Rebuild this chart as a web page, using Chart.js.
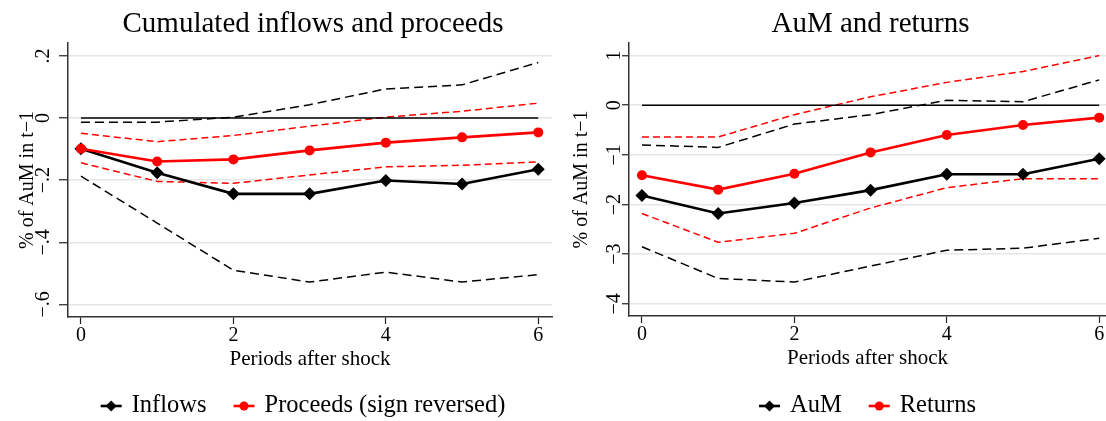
<!DOCTYPE html>
<html>
<head>
<meta charset="utf-8">
<script src="https://cdn.jsdelivr.net/npm/chart.js@4.4.0/dist/chart.umd.min.js"></script>
<style>
  html, body { margin: 0; padding: 0; background: #fff; }
  #wrap { position: relative; width: 1106px; height: 421px; }
  canvas { position: absolute; top: 0; }
</style>
</head>
<body>
<div id="wrap">
  <canvas id="flows" width="553" height="421" style="left:0"></canvas>
  <canvas id="aum" width="553" height="421" style="left:553px"></canvas>
</div>
<script>
const periods = [0, 1, 2, 3, 4, 5, 6];
const xTicks = [0, 2, 4, 6];

// left panel: cumulated flows, point estimates and confidence bands
const inflows    = [-0.099, -0.176, -0.244, -0.244, -0.201, -0.212, -0.165];
const inflowsHi  = [-0.013, -0.013, 0.003, 0.043, 0.094, 0.107, 0.179];
const inflowsLo  = [-0.187, -0.338, -0.490, -0.528, -0.496, -0.528, -0.504];
const proceeds   = [-0.099, -0.140, -0.133, -0.104, -0.079, -0.062, -0.046];
const proceedsHi = [-0.049, -0.076, -0.056, -0.026, 0.003, 0.022, 0.048];
const proceedsLo = [-0.144, -0.204, -0.210, -0.183, -0.157, -0.152, -0.141];
const flowTicks  = [0.2, 0, -0.2, -0.4, -0.6];
const flowLabels = ['.2', '0', '\u2212.2', '\u2212.4', '\u2212.6'];

// right panel: AuM and returns
const aum        = [-1.82, -2.18, -1.97, -1.71, -1.39, -1.39, -1.08];
const aumHi      = [-0.80, -0.85, -0.38, -0.19, 0.10, 0.07, 0.51];
const aumLo      = [-2.85, -3.49, -3.56, -3.24, -2.92, -2.88, -2.68];
const returns    = [-1.41, -1.70, -1.38, -0.95, -0.60, -0.40, -0.25];
const returnsHi  = [-0.64, -0.64, -0.19, 0.17, 0.46, 0.68, 1.00];
const returnsLo  = [-2.18, -2.76, -2.58, -2.07, -1.66, -1.48, -1.48];
const aumTicks   = [1, 0, -1, -2, -3, -4];
const aumLabels  = ['1', '0', '\u22121', '\u22122', '\u22123', '\u22124'];

const zeros = periods.map(() => 0);
const SERIF = '"Liberation Serif", "Times New Roman", serif';
const RED = '#ff0000';

function pts(values) {
  return periods.map((p, i) => ({ x: p, y: values[i] }));
}

function mainLine(label, values, color, style, radius) {
  return {
    label: label, data: pts(values),
    borderColor: color, backgroundColor: color, borderWidth: 2.6,
    pointStyle: style, pointRadius: radius, pointBorderWidth: 0,
    pointBackgroundColor: color
  };
}

function band(values, color, dash) {
  return {
    data: pts(values), borderColor: color, borderWidth: 1.5,
    borderDash: dash, pointRadius: 0
  };
}

// title, rotated y tick labels and the line+marker legend
const decor = {
  id: 'decor',
  afterDraw(chart, args, o) {
    const ctx = chart.ctx, area = chart.chartArea, ys = chart.scales.y;
    const mid = (area.left + area.right) / 2;
    ctx.save();
    ctx.fillStyle = '#000';

    ctx.font = '29px ' + SERIF;
    ctx.textAlign = 'center';
    ctx.textBaseline = 'alphabetic';
    ctx.fillText(o.title, mid + 3, 32);

    ctx.font = '20px ' + SERIF;
    o.yTicks.forEach((v, i) => {
      ctx.save();
      ctx.translate(o.yLabelX, ys.getPixelForValue(v));
      ctx.rotate(-Math.PI / 2);
      ctx.fillText(o.yLabels[i], 0, 0);
      ctx.restore();
    });

    ctx.font = '24.5px ' + SERIF;
    ctx.textAlign = 'left';
    ctx.textBaseline = 'middle';
    const sym = 21, gap = 10, between = 27, ly = 406;
    const widths = o.legend.map(it => ctx.measureText(it.label).width);
    let total = between * (o.legend.length - 1);
    widths.forEach(w => { total += sym + gap + w; });
    let sx = mid + o.legendShift - total / 2;
    o.legend.forEach((it, i) => {
      ctx.strokeStyle = it.color;
      ctx.fillStyle = it.color;
      ctx.lineWidth = 2.6;
      ctx.beginPath();
      ctx.moveTo(sx, ly);
      ctx.lineTo(sx + sym, ly);
      ctx.stroke();
      const cx = sx + sym / 2;
      ctx.beginPath();
      if (it.style === 'rectRot') {
        const r = 5.5;
        ctx.moveTo(cx, ly - r);
        ctx.lineTo(cx + r, ly);
        ctx.lineTo(cx, ly + r);
        ctx.lineTo(cx - r, ly);
        ctx.closePath();
      } else {
        ctx.arc(cx, ly, 4.5, 0, Math.PI * 2);
      }
      ctx.fill();
      ctx.fillStyle = '#000';
      ctx.fillText(it.label, sx + sym + gap, ly);
      sx += sym + gap + widths[i] + between;
    });
    ctx.restore();
  }
};

function makeChart(id, cfg) {
  return new Chart(document.getElementById(id), {
    type: 'line',
    data: { datasets: cfg.datasets },
    options: {
      responsive: false,
      animation: false,
      devicePixelRatio: 1,
      layout: {
        autoPadding: false,
        padding: { top: 43, bottom: cfg.bottomPad, left: 0, right: cfg.rightPad }
      },
      elements: { line: { tension: 0 } },
      plugins: {
        legend: { display: false },
        tooltip: { enabled: false },
        decor: cfg.decor
      },
      scales: {
        x: {
          type: 'linear', min: -0.17, max: cfg.xMax,
          afterBuildTicks: s => { s.ticks = xTicks.map(v => ({ value: v })); },
          afterFit: s => { s.height = 58; s.paddingLeft = 0; s.paddingRight = 0; },
          ticks: { font: { family: SERIF, size: 20 }, color: '#000', padding: 0, maxRotation: 0 },
          grid: { drawOnChartArea: false, tickColor: '#222', tickLength: 7, tickWidth: 1.2 },
          border: { color: '#333', width: 1.5 },
          title: {
            display: true, text: 'Periods after shock', color: '#000',
            font: { family: SERIF, size: 21 }, padding: { top: 0, bottom: 3 }
          }
        },
        y: {
          min: cfg.yMin, max: cfg.yMax,
          afterBuildTicks: s => { s.ticks = cfg.yTicks.map(v => ({ value: v })); },
          afterFit: s => { s.width = cfg.yWidth; },
          ticks: { display: false },
          grid: { color: '#e6e6e6', lineWidth: 1.5, tickColor: '#222', tickLength: cfg.yTickLen, tickWidth: 1.2 },
          border: { color: '#333', width: 1.5 },
          title: {
            display: true, text: '% of AuM in t\u22121', color: '#000',
            font: { family: SERIF, size: 20 }, padding: { top: cfg.yTitlePad, bottom: 0 }
          }
        }
      }
    },
    plugins: [decor]
  });
}

makeChart('flows', {
  datasets: [
    mainLine('Proceeds (sign reversed)', proceeds, RED, 'circle', 5),
    mainLine('Inflows', inflows, '#000', 'rectRot', 6.5),
    { data: pts(zeros), borderColor: '#000', borderWidth: 1.5, pointRadius: 0 },
    band(proceedsHi, RED, [7, 4]),
    band(proceedsLo, RED, [7, 4]),
    band(inflowsHi, '#000', [9, 5]),
    band(inflowsLo, '#000', [9, 5])
  ],
  xMax: 6.18, yMin: -0.6405, yMax: 0.2418, yTicks: flowTicks,
  yWidth: 68, yTickLen: 9, yTitlePad: 16, bottomPad: 46, rightPad: 1,
  decor: {
    title: 'Cumulated inflows and proceeds',
    yTicks: flowTicks, yLabels: flowLabels, yLabelX: 48.5, legendShift: -7,
    legend: [
      { label: 'Inflows', color: '#000', style: 'rectRot' },
      { label: 'Proceeds (sign reversed)', color: RED, style: 'circle' }
    ]
  }
});

makeChart('aum', {
  datasets: [
    mainLine('Returns', returns, RED, 'circle', 5),
    mainLine('AuM', aum, '#000', 'rectRot', 6.5),
    { data: pts(zeros), borderColor: '#000', borderWidth: 1.5, pointRadius: 0 },
    band(returnsHi, RED, [7, 4]),
    band(returnsLo, RED, [7, 4]),
    band(aumHi, '#000', [9, 5]),
    band(aumLo, '#000', [9, 5])
  ],
  xMax: 6.089, yMin: -4.245, yMax: 1.253, yTicks: aumTicks,
  yWidth: 76, yTickLen: 7, yTitlePad: 17, bottomPad: 47, rightPad: 0,
  decor: {
    title: 'AuM and returns',
    yTicks: aumTicks, yLabels: aumLabels, yLabelX: 66.5, legendShift: 0,
    legend: [
      { label: 'AuM', color: '#000', style: 'rectRot' },
      { label: 'Returns', color: RED, style: 'circle' }
    ]
  }
});
</script>
</body>
</html>
